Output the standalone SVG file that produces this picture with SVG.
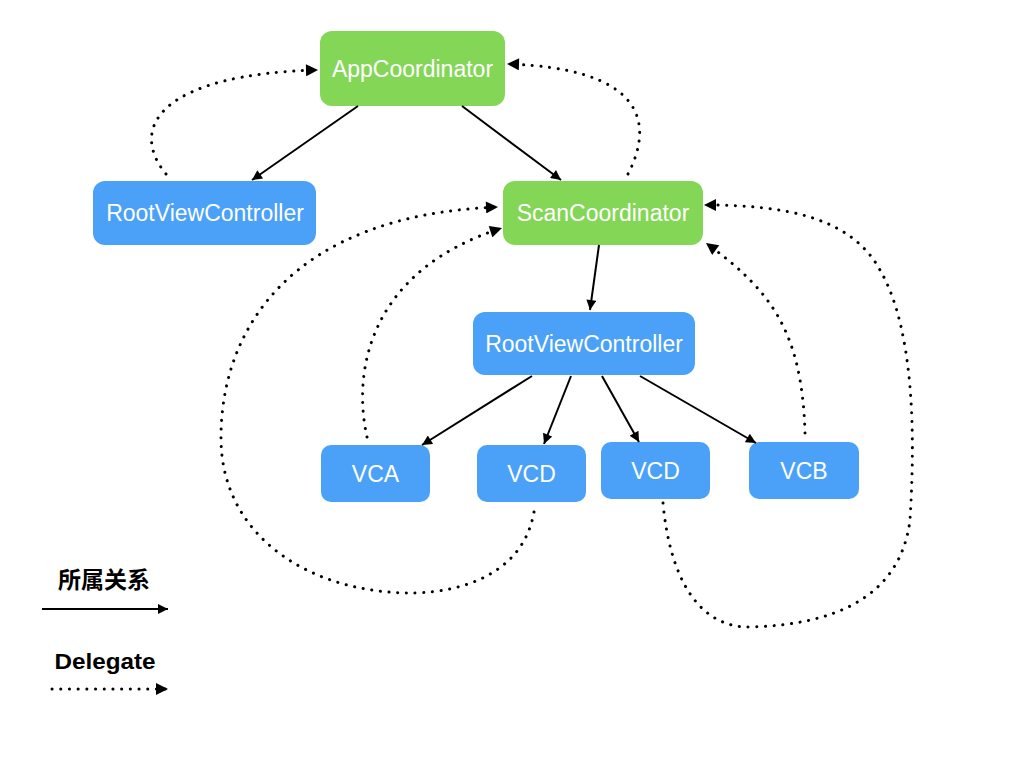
<svg xmlns="http://www.w3.org/2000/svg" width="1024" height="768" viewBox="0 0 1024 768">
<style>
.g{fill:#84D657}
.b{fill:#4AA1F7}
.t{font-family:"Liberation Sans",Arial,sans-serif;font-size:23px;fill:#fff;text-anchor:middle;dominant-baseline:central}
.s{fill:none;stroke:#000;stroke-width:2}
.d{fill:none;stroke:#000;stroke-width:3;stroke-linecap:round;stroke-dasharray:0.1 8.6}
.lg{font-family:"Liberation Sans","Noto Sans CJK SC",sans-serif;font-weight:bold;font-size:21px;fill:#000;text-anchor:middle}
</style>
<defs>
<marker id="as" viewBox="0 0 10 10" refX="10" refY="5" markerWidth="12" markerHeight="10" markerUnits="userSpaceOnUse" orient="auto"><path d="M0,0L10,5L0,10z" fill="#000"/></marker>
<marker id="ad" viewBox="0 0 10 10" refX="10" refY="5" markerWidth="13" markerHeight="12" markerUnits="userSpaceOnUse" orient="auto"><path d="M0,0L10,5L0,10z" fill="#000"/></marker>
</defs>
<g id="AppCoordinator"><rect class="g" x="320" y="31" width="185" height="75" rx="12"/><text class="t" x="412.5" y="69">AppCoordinator</text></g>
<g id="RootViewControllerLeft"><rect class="b" x="93" y="181" width="223" height="64" rx="12"/><text class="t" x="205" y="213">RootViewController</text></g>
<g id="ScanCoordinator"><rect class="g" x="503" y="181" width="200" height="64" rx="12"/><text class="t" x="603" y="213">ScanCoordinator</text></g>
<g id="RootViewControllerMid"><rect class="b" x="473" y="312" width="222" height="63" rx="12"/><text class="t" x="584" y="344">RootViewController</text></g>
<g id="VCA"><rect class="b" x="321" y="445" width="109" height="57" rx="10"/><text class="t" x="375.5" y="474">VCA</text></g>
<g id="VCD1"><rect class="b" x="477" y="445" width="109" height="57" rx="10"/><text class="t" x="531.5" y="474">VCD</text></g>
<g id="VCD2"><rect class="b" x="601" y="442" width="109" height="57" rx="10"/><text class="t" x="655.5" y="471">VCD</text></g>
<g id="VCB"><rect class="b" x="749" y="442" width="110" height="57" rx="10"/><text class="t" x="804" y="471">VCB</text></g>
<g id="connectors">
<path class="s" d="M358,106L252,180" marker-end="url(#as)"/>
<path class="s" d="M462,106L561,180" marker-end="url(#as)"/>
<path class="s" d="M599,245L590,310" marker-end="url(#as)"/>
<path class="s" d="M532,376L422,445" marker-end="url(#as)"/>
<path class="s" d="M571,376L544,444" marker-end="url(#as)"/>
<path class="s" d="M602,376L639,442" marker-end="url(#as)"/>
<path class="s" d="M640,376L756,443" marker-end="url(#as)"/>
<path class="d" d="M166,174C128,128 160,74 318,70" marker-end="url(#ad)"/>
<path class="d" d="M628,174C656,120 640,68 507,64" marker-end="url(#ad)"/>
<path class="d" d="M534,512C522,580 450,594 405,593C300,590 222,530 221,440C220,330 290,215 498,207" marker-end="url(#ad)"/>
<path class="d" d="M367,437C352,370 370,270 502,228" marker-end="url(#ad)"/>
<path class="d" d="M805,433C802,330 770,290 706,243" marker-end="url(#ad)"/>
<path class="d" d="M663,503C670,580 700,628 750,627C830,625 900,600 910,520C915,440 915,330 880,270C850,215 780,205 704,205" marker-end="url(#ad)"/>
</g>
<g id="legend">
<text class="lg" x="104" y="588" style="font-size:23px">所属关系</text>
<path class="s" d="M42,609L168,609" marker-end="url(#as)"/>
<text class="lg" x="105" y="669" style="font-size:22.5px" textLength="101" lengthAdjust="spacingAndGlyphs">Delegate</text>
<path class="d" d="M52,689L168,689" marker-end="url(#ad)"/>
</g>
</svg>
